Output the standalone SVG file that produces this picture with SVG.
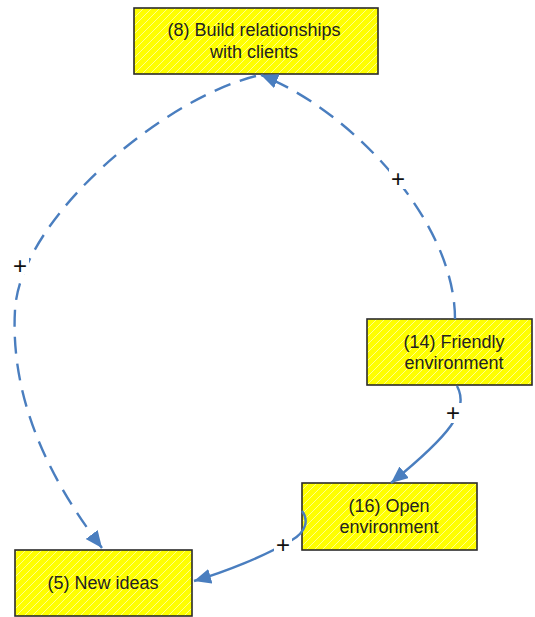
<svg xmlns="http://www.w3.org/2000/svg" width="535" height="617" viewBox="0 0 535 617">
  <defs>
    <pattern id="hatch" patternUnits="userSpaceOnUse" width="8" height="8">
      <rect width="8" height="8" fill="#ffff00"/>
      <path d="M-2,2 L2,-2 M0,8 L8,0 M6,10 L10,6" stroke="#ffff8c" stroke-width="1"/>
    </pattern>
    <marker id="arrow" markerUnits="userSpaceOnUse" markerWidth="20" markerHeight="16" refX="17" refY="7.5" orient="auto">
      <path d="M0,0 L17,7.5 L0,15 z" fill="#4a7ebf"/>
    </marker>
    <style>
      .box { fill: url(#hatch); stroke: #2b2b2b; stroke-width: 1.6; }
      .lbl { font-family: "Liberation Sans", Arial, sans-serif; font-size: 18px; fill: #222; text-anchor: middle; }
      .link { fill: none; stroke: #4a7ebf; stroke-width: 2.4; marker-end: url(#arrow); }
      .dash { stroke-dasharray: 17 10; }
      .sign { font-family: "Liberation Sans", Arial, sans-serif; font-size: 24px; fill: #111; text-anchor: middle; }
      .signbg { fill: #ffffff; }
    </style>
  </defs>

  <g id="node-8">
    <rect class="box" x="134" y="8" width="244" height="66"/>
    <text class="lbl" x="254" y="36">(8) Build relationships</text>
    <text class="lbl" x="254" y="58">with clients</text>
  </g>

  <g id="node-14">
    <rect class="box" x="367" y="319" width="165" height="66"/>
    <text class="lbl" x="454" y="348">(14) Friendly</text>
    <text class="lbl" x="454" y="369">environment</text>
  </g>

  <g id="node-16">
    <rect class="box" x="302" y="483" width="175" height="67"/>
    <text class="lbl" x="389" y="512">(16) Open</text>
    <text class="lbl" x="389" y="533">environment</text>
  </g>

  <g id="node-5">
    <rect class="box" x="15" y="550" width="177" height="66"/>
    <text class="lbl" x="103" y="589">(5) New ideas</text>
  </g>

  <g id="connectors">
    <!-- (14) -> (8) -->
    <path class="link dash" d="M455,319 C455,220 350,110 261,75"/>
    <!-- (8) -> (5) -->
    <path class="link dash" d="M256,76 C160,100 20,220 15,310 C10,400 50,480 102,548"/>
    <!-- (14) -> (16) -->
    <path class="link" d="M457,386 C470,410 450,435 391,483"/>
    <!-- (16) -> (5) -->
    <path class="link" d="M302,511 C309,520 306,532 292,540 C265,556 225,572 194,581"/>

    <!-- polarity signs -->
    <rect class="signbg" x="389" y="169" width="18" height="20"/>
    <text class="sign" x="398" y="187">+</text>
    <rect class="signbg" x="11" y="256" width="18" height="18"/>
    <text class="sign" x="20" y="274">+</text>
    <rect class="signbg" x="444" y="403" width="18" height="20"/>
    <text class="sign" x="453" y="421">+</text>
    <rect class="signbg" x="274" y="535" width="18" height="19"/>
    <text class="sign" x="283" y="553">+</text>
  </g>
</svg>
